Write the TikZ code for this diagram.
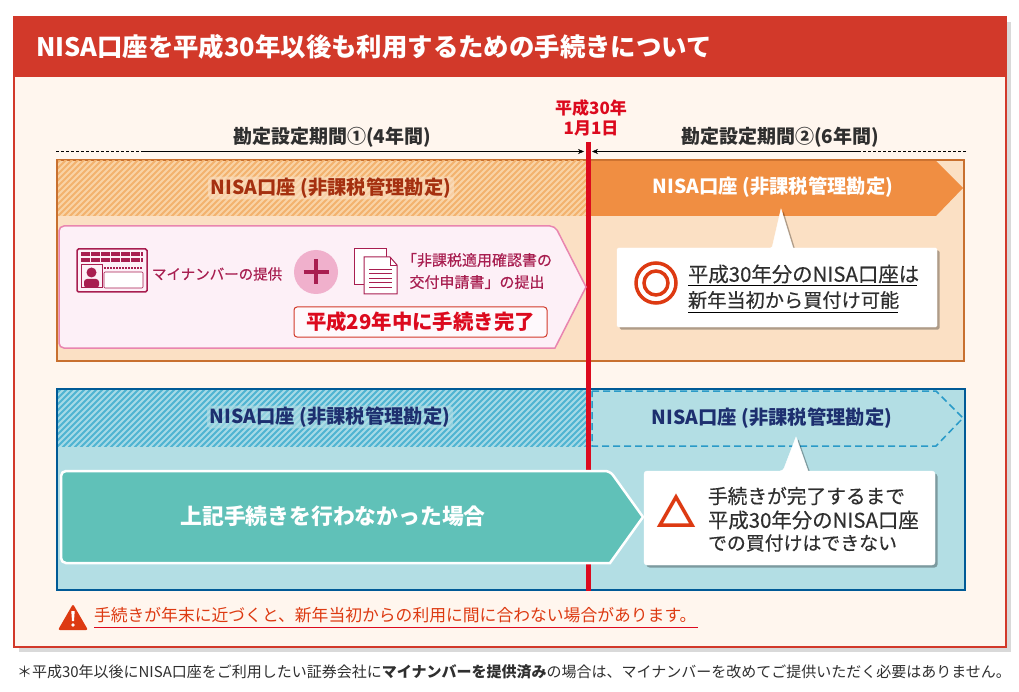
\documentclass[tikz,border=0pt]{standalone}
\usepackage{fontspec}
\setmainfont{Noto Sans CJK JP}
\newfontfamily\jpmedium[FakeBold=0.35]{Noto Sans CJK JP}
\usetikzlibrary{shadows,arrows.meta}
\definecolor{panelred}{HTML}{D2392A}
\definecolor{panelcream}{HTML}{FFF6EE}
\definecolor{lineorange}{HTML}{C8702F}
\definecolor{orangepale}{HTML}{FBE0C4}
\definecolor{orangesolid}{HTML}{F08E42}
\definecolor{hatchorangeA}{HTML}{F9D3A6}
\definecolor{hatchorangeB}{HTML}{F3B26E}
\definecolor{textbrown}{HTML}{A5300F}
\definecolor{linedeep}{HTML}{005A96}
\definecolor{bluepale}{HTML}{B3DEE4}
\definecolor{hatchblueA}{HTML}{A6DAE6}
\definecolor{hatchblueB}{HTML}{4FB4D2}
\definecolor{bluedash}{HTML}{2A9AC8}
\definecolor{textnavy}{HTML}{1D2F6F}
\definecolor{dayred}{HTML}{DC0A1E}
\definecolor{wine}{HTML}{A81E50}
\definecolor{pinkpale}{HTML}{FDF0F7}
\definecolor{pinkline}{HTML}{E985B0}
\definecolor{pinkdisc}{HTML}{F0B0CC}
\definecolor{tealsolid}{HTML}{60C1B8}
\definecolor{signred}{HTML}{DD3A12}
\definecolor{inkgrey}{HTML}{2F2F2F}
\newcommand{\fs}[2]{\fontsize{#1}{#2}\selectfont}
\tikzset{
  every node/.style={inner sep=0pt, outer sep=0pt},
  bandlabel/.style={font=\bfseries\fs{19.3}{23}},
  halolabel/.style={bandlabel, inner xsep=3pt, inner ysep=1pt, rounded corners=4pt, fill opacity=.62, text opacity=1},
  periodlabel/.style={font=\bfseries\fs{19}{22}, text=inkgrey},
  calltext/.style={text=inkgrey, anchor=west},
  noteshade/.style={drop shadow={shadow xshift=2.5pt, shadow yshift=-2.5pt, opacity=.3, fill=black}},
}
\begin{document}
\begin{tikzpicture}[x=1pt,y=-1pt]
\useasboundingbox (0,0) rectangle (1019,692);
\fill[white] (0,0) rectangle (1019,692);

% outer panel
\filldraw[fill=panelcream, draw=panelred, line width=2pt,
  drop shadow={shadow xshift=5pt, shadow yshift=-5pt, opacity=.15, fill=black}] (14,17) rectangle (1006,647);
\fill[panelred] (14,17) rectangle (1006,77);
\node[anchor=west, text=white, font=\bfseries\fs{25.4}{30}] (title) at (36,47) {NISA口座を平成30年以後も利用するための手続きについて};

% orange box
\filldraw[fill=orangepale, draw=lineorange, line width=2pt] (57,160) rectangle (964,361);
\begin{scope}
  \clip (58,161) rectangle (586,216);
  \fill[hatchorangeA] (58,161) rectangle (586,216);
  \foreach \x in {0,6,...,600}
    \draw[hatchorangeB, line width=2pt] (\x,220) -- (\x+64,156);
\end{scope}
\fill[orangesolid] (590,161) -- (936,161) -- (963,188) -- (936,216) -- (590,216) -- cycle;
\node[halolabel, fill=orangepale, text=textbrown] (bandA) at (331,188) {NISA口座 (非課税管理勘定)};
\node[bandlabel, text=white] (bandB) at (773,187) {NISA口座 (非課税管理勘定)};

% blue box
\filldraw[fill=bluepale, draw=linedeep, line width=2pt] (57,389) rectangle (965,590);
\begin{scope}
  \clip (58,390) rectangle (586,446);
  \fill[hatchblueA] (58,390) rectangle (586,446);
  \foreach \x in {0,6,...,600}
    \draw[hatchblueB, line width=2pt] (\x,450) -- (\x+64,386);
\end{scope}
\draw[bluedash, line width=1.5pt, dash pattern=on 7pt off 4pt] (592,391) -- (936,391) -- (963,418) -- (936,446) -- (592,446) -- cycle;
\node[halolabel, fill=bluepale, text=textnavy] (bandC) at (330,417) {NISA口座 (非課税管理勘定)};
\node[bandlabel, text=textnavy] (bandD) at (772,418) {NISA口座 (非課税管理勘定)};

% date and periods
\node[text=dayred, font=\bfseries\fs{17}{19.5}, align=center] (newyear) at (591,118) {平成30年\\1月1日};
\node[periodlabel] (periodA) at (332,137) {勘定設定期間①(4年間)};
\node[periodlabel] (periodB) at (780,137) {勘定設定期間②(6年間)};
\coordinate (startA) at (56,151.5);
\coordinate (breakA) at (142,151.5);
\coordinate (endA) at (584,151.5);
\coordinate (endB) at (592,151.5);
\coordinate (breakB) at (860,151.5);
\coordinate (startB) at (966,151.5);
\draw[black, densely dashed] (startA) -- (breakA);
\draw[black, -{Stealth[length=6pt,width=5pt]}] (breakA) -- (endA);
\draw[black, -{Stealth[length=6pt,width=5pt]}] (breakB) -- (endB);
\draw[black, densely dashed] (startB) -- (breakB);
\draw[dayred, line width=5pt] (588,142) -- (588,591);

% pink arrow
\filldraw[fill=pinkpale, draw=pinkline, line width=1.5pt, rounded corners=5pt]
  (59,226) -- (555,226) [sharp corners] -- (586,287) -- (555,348) [rounded corners=5pt] -- (59,348) -- cycle;

% card
\filldraw[fill=pinkpale, draw=wine, line width=1.5pt, rounded corners=1.5pt] (77,249) rectangle (147,292);
\draw[wine, line width=3.5pt, dash pattern=on 9pt off 1pt] (81,254) -- (143,254);
\draw[wine, line width=3.5pt, dash pattern=on 9pt off 1pt] (81,260) -- (143,260);
\draw[wine, line width=1pt] (81,265) rectangle (102,288);
\fill[wine] (91.5,272.5) circle (5);
\fill[wine, rounded corners=3pt] (84,288) -- (84,279) -- (99,279) -- (99,288) -- cycle;
\draw[wine, line width=1.5pt, dash pattern=on 2pt off 1pt] (104,268) -- (143,268);
\filldraw[fill=white, draw=wine, line width=.6pt, rounded corners=1pt] (104,272) rectangle (143,288);
\node[anchor=west, text=wine, font=\jpmedium\fs{14.5}{18}] (cardtext) at (152,274) {マイナンバーの提供};

% plus
\fill[pinkdisc] (316,272) circle (22);
\draw[wine, line width=4.5pt] (303.5,272) -- (328.5,272);
\draw[wine, line width=4.5pt] (316,259.5) -- (316,284.5);

% documents
\filldraw[fill=white, draw=wine, line width=1pt] (354,249) rectangle (386,285);
\filldraw[fill=white, draw=wine, line width=1pt] (364,257) -- (390,257) -- (397,265) -- (397,294) -- (364,294) -- cycle;
\draw[wine, line width=.8pt] (390,257) -- (390,265) -- (397,265);
\foreach \y in {269,273.5,...,290}
  \draw[wine, line width=.8pt] (369,\y) -- (392,\y);
\node[text=wine, font=\jpmedium\fs{15}{22}, align=center] (doctext) at (477,271) {「非課税適用確認書の\\交付申請書」の提出};

% deadline
\node[draw=panelred, fill=white!60!pinkpale, line width=1pt, rounded corners=3pt,
  minimum width=253pt, minimum height=30pt, text=dayred, font=\bfseries\fs{20.4}{24}] (deadline) at (420.5,322) {平成29年中に手続き完了};

% first note
\filldraw[white, noteshade, rounded corners=1.5pt]
  (617,248) -- (772,248) [sharp corners] -- (781,209) -- (793,248) [rounded corners=1.5pt] -- (937,248) -- (937,327) -- (617,327) -- cycle;
\draw[signred, line width=3.5pt] (656,283) circle (20);
\draw[signred, line width=3.5pt] (656,283) circle (12);
\node[calltext, font=\jpmedium\fs{20.4}{24}] (noteA) at (688,274) {平成30年分のNISA口座は};
\node[calltext, font=\jpmedium\fs{19.2}{24}] (noteB) at (688,300) {新年当初から買付け可能};
\draw[black, line width=.8pt] (688,285.5) -- (917,285.5);
\draw[black, line width=.8pt] (688,312.5) -- (898,312.5);

% green arrow
\filldraw[fill=tealsolid, draw=white, line width=2.5pt, rounded corners=5pt]
  (61,471) -- (610,471) [sharp corners] -- (643,517) -- (610,563) [rounded corners=5pt] -- (61,563) -- cycle;
\node[text=white, font=\bfseries\fs{21.8}{26}] (greentext) at (333,516) {上記手続きを行わなかった場合};

% second note
\filldraw[white, noteshade, rounded corners=3pt]
  (644,471) -- (783,471) [sharp corners] -- (796,437) -- (808,471) [rounded corners=3pt] -- (935,471) -- (935,565) -- (644,565) -- cycle;
\draw[signred, line width=3.5pt, line join=miter] (676,497) -- (660,525) -- (692,525) -- cycle;
\node[calltext, font=\jpmedium\fs{19.7}{24}] (noteC) at (708,496) {手続きが完了するまで};
\node[calltext, font=\jpmedium\fs{20.4}{24}] (noteD) at (708,520) {平成30年分のNISA口座};
\node[calltext, font=\jpmedium\fs{18.9}{24}] (noteE) at (708,543) {での買付けはできない};

% warning
\fill[signred, rounded corners=2pt] (73,604) -- (88,630) -- (58,630) -- cycle;
\fill[white] (71.3,611) -- (74.7,611) -- (74,621) -- (72,621) -- cycle;
\fill[white] (73,625) circle (1.8);
\node[anchor=west, text=signred, font=\fs{16.8}{20}] (warning) at (94,615) {手続きが年末に近づくと、新年当初からの利用に間に合わない場合があります。};
\draw[dayred, line width=.8pt] (94,627) -- (698,627);

% footnote
\node[anchor=west, text=inkgrey, font=\fs{15}{18}] (footnote) at (17,672)
  {＊平成30年以後にNISA口座をご利用したい証券会社に\textbf{マイナンバーを提供済み}の場合は、マイナンバーを改めてご提供いただく必要はありません。};
\end{tikzpicture}
\end{document}
